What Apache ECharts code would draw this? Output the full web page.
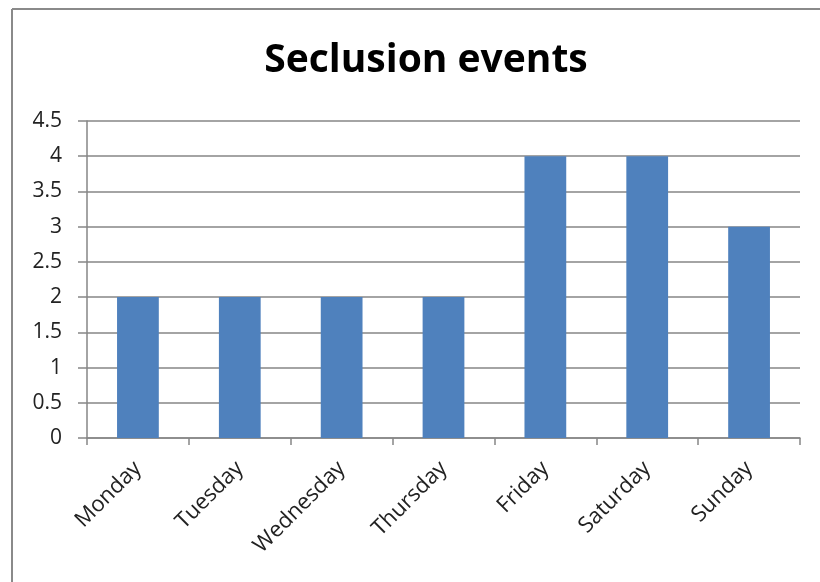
<!DOCTYPE html>
<html>
<head>
<meta charset="utf-8">
<script src="https://cdn.jsdelivr.net/npm/echarts@6/dist/echarts.min.js"></script>
<style>
  html, body { margin: 0; padding: 0; background: #fff; }
  #chart { width: 820px; height: 582px; }
</style>
</head>
<body>
<div id="chart"></div>
<script>
// chart data
const days = ['Monday', 'Tuesday', 'Wednesday', 'Thursday', 'Friday', 'Saturday', 'Sunday'];
const events = [2, 2, 2, 2, 4, 4, 3];

const chart = echarts.init(document.getElementById('chart'));
const font = '"Open Sans", "Noto Sans", sans-serif';

chart.setOption({
    animation: false,
    backgroundColor: '#fff',
    title: {
        text: 'Seclusion events',
        left: 421,
        top: 36,
        textAlign: 'center',
        textStyle: { fontFamily: font, fontSize: 39, fontWeight: 'bold', color: '#000' }
    },
    // outer frame: only top and left edges are visible in the picture
    graphic: [
        { type: 'line', shape: { x1: 12, y1: 9, x2: 820, y2: 9 }, style: { stroke: '#8a8a8a', lineWidth: 2 } },
        { type: 'line', shape: { x1: 12, y1: 9, x2: 12, y2: 582 }, style: { stroke: '#8a8a8a', lineWidth: 2 } }
    ],
    grid: { left: 87, right: 20, top: 121, bottom: 144, containLabel: false },
    xAxis: {
        type: 'category',
        data: days,
        axisLine: { lineStyle: { color: '#868686', width: 1.5 } },
        axisTick: { show: true, length: 7, alignWithLabel: false, lineStyle: { color: '#868686', width: 1.5 } },
        axisLabel: {
            rotate: 45,
            margin: 27,
            interval: 0,
            fontFamily: font,
            fontSize: 22,
            color: '#222'
        }
    },
    yAxis: {
        type: 'value',
        min: 0,
        max: 4.5,
        interval: 0.5,
        axisLine: { show: true, lineStyle: { color: '#868686', width: 1.5 } },
        axisTick: { show: true, length: 9, lineStyle: { color: '#868686', width: 1.5 } },
        splitLine: { show: true, lineStyle: { color: '#868686', width: 1.5 } },
        axisLabel: { fontFamily: font, fontSize: 21, color: '#222', margin: 25 }
    },
    series: [{
        type: 'bar',
        data: events,
        barWidth: '41%',
        itemStyle: { color: '#4F81BD' }
    }]
});
</script>
</body>
</html>
